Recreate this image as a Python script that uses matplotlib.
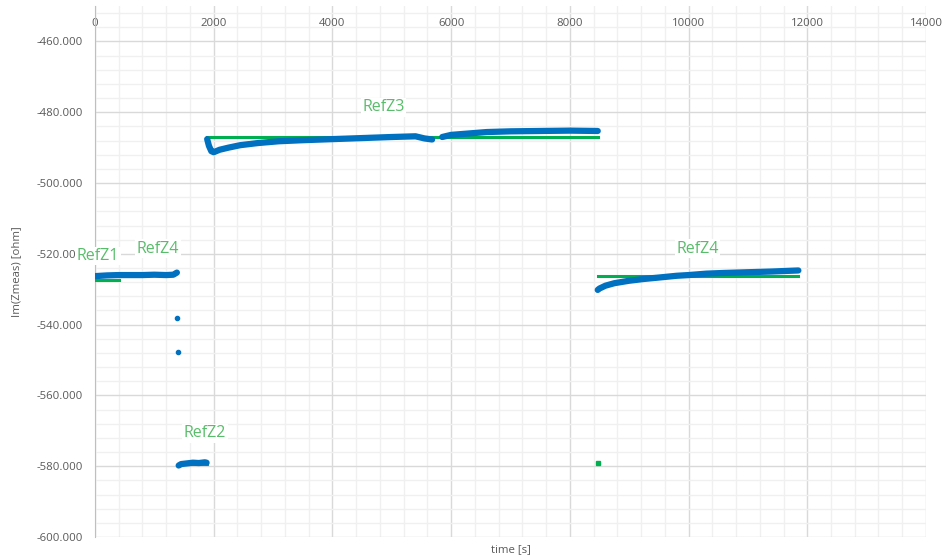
import matplotlib
matplotlib.use("Agg")
import matplotlib.pyplot as plt
from matplotlib.ticker import MultipleLocator, FormatStrFormatter

plt.rcParams['font.family'] = ['Open Sans', 'DejaVu Sans']

BLUE = '#0070C0'
GREEN = '#00B050'
LABEL_GREEN = '#58BD6A'
GREY_TXT = '#595959'

# measured Im(Z) traces, one list per reference segment
seg1_t = [0, 100, 200, 400, 600, 800, 1000, 1200, 1320, 1380]
seg1_z = [-526.3, -526.2, -526.1, -526.0, -526.0, -526.0, -525.9, -526.0, -525.9, -525.3]

outlier_t = [1390, 1392]
outlier_z = [-538.0, -547.6]

seg2_t = [1410, 1450, 1550, 1650, 1750, 1850, 1880]
seg2_z = [-579.8, -579.4, -579.2, -579.0, -579.1, -578.9, -579.0]

seg3a_t = [1890, 1920, 1960, 2000, 2100, 2250, 2450, 2750, 3100, 3500,
           4000, 4500, 5000, 5400, 5550, 5680]
seg3a_z = [-487.6, -489.5, -491.0, -491.3, -490.6, -490.0, -489.3, -488.7, -488.2, -487.9,
           -487.6, -487.3, -487.0, -486.8, -487.4, -487.7]
seg3b_t = [5850, 6000, 6300, 6600, 7000, 7500, 8000, 8470]
seg3b_z = [-487.0, -486.4, -486.0, -485.6, -485.4, -485.3, -485.2, -485.3]

seg4_t = [8470, 8500, 8600, 8750, 9000, 9250, 9500, 9800, 10000, 10300,
          10600, 11000, 11400, 11700, 11850]
seg4_z = [-530.2, -529.8, -529.0, -528.3, -527.6, -527.1, -526.7, -526.2, -526.0, -525.6,
          -525.4, -525.2, -525.0, -524.8, -524.7]

# reference impedances: start, end, value
ref_start = [0, 1400, 1890, 8470]
ref_end = [400, 1880, 8470, 11850]
ref_value = [-527.3, -579.3, -486.9, -526.3]
ref_dot = (8480, -579.2)

# label anchors (time, Im(Z))
label_text = ['RefZ1', 'RefZ4', 'RefZ2', 'RefZ3', 'RefZ4']
label_t = [50, 1060, 1855, 4856, 10150]
label_z = [-520.6, -518.5, -570.7, -478.6, -518.6]

fig = plt.figure(figsize=(9.47, 5.58), dpi=100)
ax = fig.add_axes([0.1003, 0.0376, 0.8775, 0.9516])

for s, e, v in zip(ref_start, ref_end, ref_value):
    ax.plot([s, e], [v, v], color=GREEN, lw=2.2, zorder=3)
ax.plot([ref_dot[0]], [ref_dot[1]], 's', color=GREEN, ms=3, zorder=3)

for t, z in [(seg1_t, seg1_z), (seg2_t, seg2_z), (seg3a_t, seg3a_z),
             (seg3b_t, seg3b_z), (seg4_t, seg4_z)]:
    ax.plot(t, z, color=BLUE, lw=4.5, solid_capstyle='round',
            solid_joinstyle='round', zorder=4)
ax.plot(outlier_t, outlier_z, 'o', color=BLUE, ms=3, zorder=4)

for txt, t, z in zip(label_text, label_t, label_z):
    ax.text(t, z, txt, color=LABEL_GREEN, fontsize=11.5, ha='center', va='center',
            zorder=5, bbox=dict(facecolor='white', edgecolor='none', pad=1.0))

ax.set_xlim(0, 14000)
ax.set_ylim(-600, -450)
ax.xaxis.set_major_locator(MultipleLocator(2000))
ax.xaxis.set_minor_locator(MultipleLocator(400))
ax.yaxis.set_major_locator(MultipleLocator(20))
ax.yaxis.set_minor_locator(MultipleLocator(4))
ax.yaxis.set_major_formatter(FormatStrFormatter('%.3f'))
ax.set_yticks([-600, -580, -560, -540, -520, -500, -480, -460])

ax.grid(which='major', color='#D9D9D9', lw=1.0, zorder=0)
ax.grid(which='minor', color='#F0F0F0', lw=1.0, zorder=0)
ax.set_axisbelow(True)

for side in ['right', 'bottom', 'top']:
    ax.spines[side].set_visible(False)
ax.spines['left'].set_color('#BFBFBF')

ax.tick_params(axis='x', which='both', bottom=False, labelbottom=False,
               top=False, labeltop=True, pad=-20, labelsize=8.2, labelcolor=GREY_TXT)
ax.tick_params(axis='y', which='both', length=0, pad=9, labelsize=8.2, labelcolor=GREY_TXT)

ax.set_ylabel('Im(Zmeas) [ohm]', fontsize=8.2, color=GREY_TXT, labelpad=10)
ax.set_xlabel('time [s]', fontsize=8.2, color=GREY_TXT, labelpad=5)

fig.savefig('out.png', dpi=100)
